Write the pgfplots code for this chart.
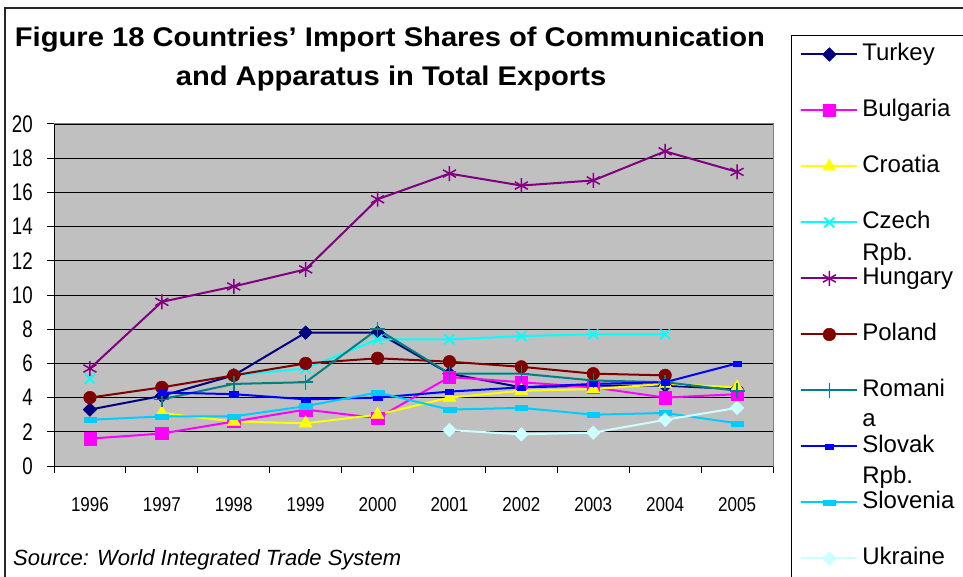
\documentclass[border=0pt]{standalone}
\usepackage{fontspec}
\setmainfont{Liberation Sans}
\newfontfamily\ytfont[FakeStretch=0.78]{Liberation Sans}
\newfontfamily\xtfont[FakeStretch=0.85]{Liberation Sans}
\newfontfamily\titlefont[FakeStretch=1.08]{Liberation Sans Bold}
\usepackage{pgfplots}
\pgfplotsset{compat=1.18}
\definecolor{cTurkey}{HTML}{000080}
\definecolor{cBulgaria}{HTML}{FF00FF}
\definecolor{cCroatia}{HTML}{FFFF00}
\definecolor{cCzech}{HTML}{00FFFF}
\definecolor{cHungary}{HTML}{800080}
\definecolor{cPoland}{HTML}{800000}
\definecolor{cRomania}{HTML}{008080}
\definecolor{cSlovak}{HTML}{0000FF}
\definecolor{cSlovenia}{HTML}{00CCFF}
\definecolor{cUkraine}{HTML}{CCFFFF}
\definecolor{plotgray}{HTML}{C0C0C0}
\definecolor{axgray}{HTML}{808080}
\begin{document}
\begin{tikzpicture}[x=1pt,y=1pt]
\useasboundingbox (0,0) rectangle (963,576);
\clip (0,0) rectangle (963,576);
\fill[white] (0,0) rectangle (963,576);
\draw[line width=1.5pt, black!85] (5,-5) -- (5,568) -- (970,568);
\node[font=\titlefont\fontsize{27}{30}\selectfont, anchor=base, inner sep=0pt] at (390,529) {Figure 18 Countries’ Import Shares of Communication};
\node[font=\titlefont\fontsize{27}{30}\selectfont, anchor=base, inner sep=0pt] at (391,490) {and Apparatus in Total Exports};
\node[font=\fontsize{22}{26}\selectfont\itshape, anchor=base west, inner sep=0pt] at (13,11) {Source: World Integrated Trade System};
\begin{axis}[
  at={(54pt,110pt)}, anchor=south west,
  scale only axis, width=719pt, height=342pt,
  xmin=-0.5, xmax=9.5, ymin=0, ymax=20,
  ytick={0,2,...,20},
  xtick={-0.5,0.5,...,9.5},
  xticklabels={1996,1997,1998,1999,2000,2001,2002,2003,2004,2005},
  x tick label as interval,
  axis background/.style={fill=plotgray},
  axis line style={draw=axgray, line width=1pt},
  ymajorgrids, grid style={black, line width=0.9pt},
  tick align=outside, tick pos=left, major tick length=7pt,
  tick style={black, line width=1pt},
  /pgf/number format/assume math mode=true,
  yticklabel style={font=\ytfont\fontsize{24}{24}\selectfont, inner sep=0pt, xshift=-14pt},
  xticklabel style={font=\xtfont\fontsize{20}{20}\selectfont, inner sep=0pt, yshift=-24pt},
  unbounded coords=jump,
  every axis plot/.append style={line width=2pt},
  legend style={at={(1.025,1.26)}, anchor=north west, draw=black, line width=0.8pt, fill=white,
    font=\fontsize{24}{32}\selectfont, row sep=32pt, inner xsep=9pt, inner ysep=7pt,
    nodes={inner sep=0pt, text height=18pt, text depth=6pt}},
  legend cell align=left,
  legend image code/.code={\draw[mark repeat=2,mark phase=2,#1] plot coordinates {(0pt,0pt) (28pt,0pt) (56pt,0pt)}; \path (60pt,0pt);},
]
\draw[black, line width=1pt] (rel axis cs:0,1) -- (rel axis cs:0,0) -- (rel axis cs:1,0);
\addplot[color=cTurkey, mark=square*, mark size=4.8pt, mark options={solid, rotate=45, fill=cTurkey, line width=0.5pt}]
  coordinates {(0,3.3) (1,4.1) (2,5.3) (3,7.8) (4,7.8) (5,5.4) (6,4.6) (7,4.7) (8,4.7) (9,4.5)};
\addlegendentry{Turkey}
\addplot[color=cBulgaria, mark=square*, mark size=6.2pt, mark options={solid, fill=cBulgaria, line width=0.5pt}]
  coordinates {(0,1.6) (1,1.9) (2,2.6) (3,3.3) (4,2.8) (5,5.2) (6,4.9) (7,4.6) (8,4.0) (9,4.2)};
\addlegendentry{Bulgaria}
\addplot[color=cCroatia, mark=triangle*, mark size=7.5pt, mark options={solid, fill=cCroatia, line width=0.5pt}]
  coordinates {(0,nan) (1,3.1) (2,2.6) (3,2.5) (4,3.0) (5,4.0) (6,4.4) (7,4.5) (8,4.8) (9,4.6)};
\addlegendentry{Croatia}
\addplot[color=cCzech, mark=x, mark size=7pt, mark options={solid, line width=1.8pt}]
  coordinates {(0,5.1) (1,nan) (2,5.3) (3,5.7) (4,7.4) (5,7.4) (6,7.6) (7,7.7) (8,7.7) (9,nan)};
\addlegendentry{\smash{\vtop{\hbox{Czech}\hbox{Rpb.}}}}
\addplot[color=cHungary, mark=asterisk, mark size=7.5pt, mark options={solid, line width=1.5pt}]
  coordinates {(0,5.7) (1,9.6) (2,10.5) (3,11.5) (4,15.6) (5,17.1) (6,16.4) (7,16.7) (8,18.4) (9,17.2)};
\addlegendentry{Hungary}
\addplot[color=cPoland, mark=*, mark size=6.3pt, mark options={solid, fill=cPoland, line width=0.5pt}]
  coordinates {(0,4.0) (1,4.6) (2,5.3) (3,6.0) (4,6.3) (5,6.1) (6,5.8) (7,5.4) (8,5.3) (9,nan)};
\addlegendentry{Poland}
\addplot[color=cRomania, mark=+, mark size=7.5pt, mark options={solid, line width=1.5pt}]
  coordinates {(0,nan) (1,3.9) (2,4.8) (3,4.9) (4,8.0) (5,5.4) (6,5.4) (7,5.0) (8,4.9) (9,4.4)};
\addlegendentry{\smash{\vtop{\baselineskip=30pt\hbox{Romani}\hbox{a}}}}
\addplot[color=cSlovak, mark=square*, mark size=2.6pt, mark options={solid, xscale=1.6, fill=cSlovak, line width=0.3pt}]
  coordinates {(0,nan) (1,4.3) (2,4.2) (3,3.9) (4,4.0) (5,4.35) (6,4.6) (7,4.8) (8,4.9) (9,6.0)};
\addlegendentry{\smash{\vtop{\baselineskip=31pt\hbox{Slovak}\hbox{Rpb.}}}}
\addplot[color=cSlovenia, mark=square*, mark size=2.6pt, mark options={solid, xscale=2.4, fill=cSlovenia, line width=0.3pt}]
  coordinates {(0,2.7) (1,2.9) (2,2.9) (3,3.5) (4,4.3) (5,3.3) (6,3.4) (7,3.0) (8,3.1) (9,2.5)};
\addlegendentry{Slovenia}
\addplot[color=cUkraine, mark=square*, mark size=4.8pt, mark options={solid, rotate=45, fill=cUkraine, line width=0.5pt}]
  coordinates {(0,nan) (1,nan) (2,nan) (3,nan) (4,nan) (5,2.1) (6,1.85) (7,1.95) (8,2.7) (9,3.4)};
\addlegendentry{Ukraine}
\end{axis}
\end{tikzpicture}
\end{document}
